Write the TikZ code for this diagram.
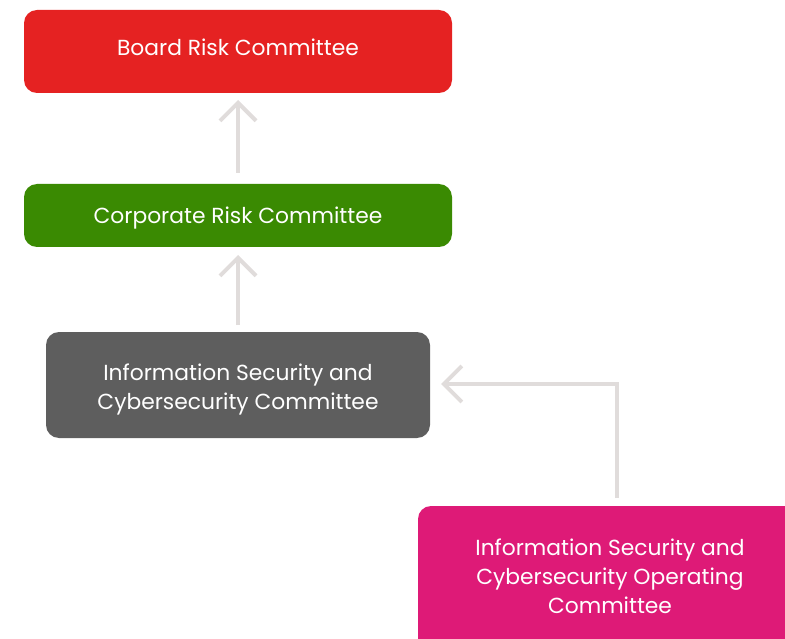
\documentclass[tikz,border=0pt]{standalone}
\usepackage{fontspec}
\setmainfont{Poppins}
\usetikzlibrary{arrows.meta}
\definecolor{boardred}{HTML}{E52222}
\definecolor{corpgreen}{HTML}{3A8A02}
\definecolor{isgray}{HTML}{5E5E5E}
\definecolor{oppink}{HTML}{DE1A77}
\definecolor{linkgray}{HTML}{E0DCDB}
\tikzset{
  box/.style={text=white, align=center,
    font=\fontsize{21.8}{29}\selectfont, inner sep=0pt},
  link/.style={draw=linkgray, line width=4pt,
    -{Straight Barb[length=18pt,width=36pt,line width=4pt]}}
}
\begin{document}
\begin{tikzpicture}[x=1pt,y=-1pt]
\useasboundingbox (0,0) rectangle (785,639);
\begin{scope}
  \clip (0,0) rectangle (785,639);
  % committee boxes
  \fill[boardred, rounded corners=13pt] (24,10) rectangle (452,93);
  \node[box] (board) at (238,47) {Board Risk Committee};
  \fill[corpgreen, rounded corners=13pt] (24,184) rectangle (452,247);
  \node[box] (corp) at (238,218.5) {Corporate Risk Committee};
  \fill[isgray, rounded corners=13pt] (46,332) rectangle (430,438);
  \node[box] (isc) at (238,389) {Information Security and\\Cybersecurity Committee};
  \fill[oppink, rounded corners=13pt] (418,506) rectangle (810,670);
  \node[box] (isoc) at (610,576.5) {Information Security and\\Cybersecurity Operating\\Committee};
\end{scope}
% anchor points on the box edges
\coordinate (boardB) at (238,93);
\coordinate (corpT) at (238,184);
\coordinate (corpB) at (238,247);
\coordinate (iscT) at (238,332);
\coordinate (iscR) at (430,384);
\coordinate (isocT) at (617,506);
% reporting lines
\draw[link, shorten <=11pt, shorten >=7pt] (corpT) -- (boardB);
\draw[link, shorten <=7pt, shorten >=8pt] (iscT) -- (corpB);
\draw[link, shorten <=8pt, shorten >=11pt] (isocT) |- (iscR);
\end{tikzpicture}
\end{document}
